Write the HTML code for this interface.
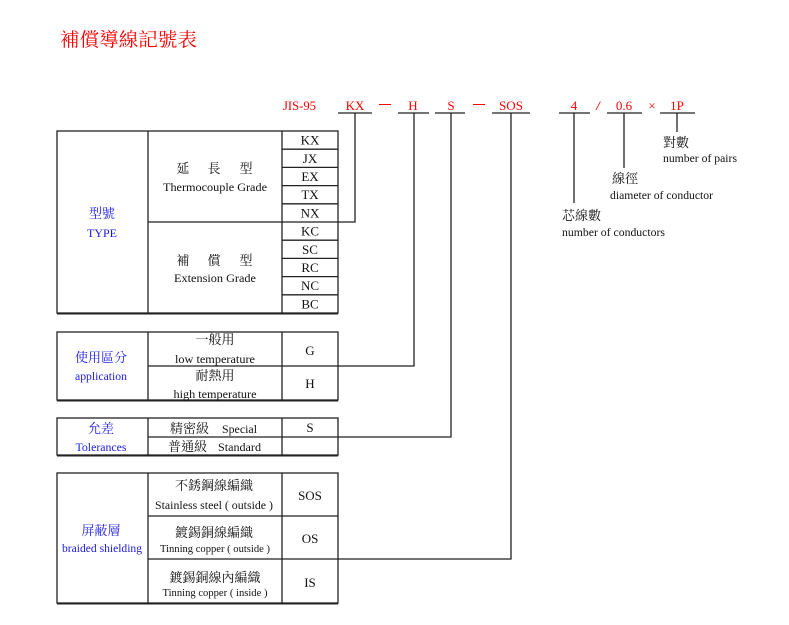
<!DOCTYPE html>
<html><head><meta charset="utf-8">
<style>
html,body{margin:0;padding:0;background:#fff;}
svg{display:block;}
text{font-family:"Liberation Serif","Noto Serif CJK TC","Noto Serif CJK SC",serif;}
.c{font-size:13px;fill:#111;}
.e{font-size:12px;fill:#111;}
.s{font-size:11px;fill:#111;}
.b{fill:#1a1ae6;}
.r{fill:#ff0000;}
</style></head>
<body>
<svg width="789" height="625" viewBox="0 0 789 625" xmlns="http://www.w3.org/2000/svg">
<text x="60" y="46" class="r" style="font-size:19px" textLength="137" lengthAdjust="spacingAndGlyphs">補償導線記號表</text>

<!-- top code line -->
<g class="r" style="font-size:13px" text-anchor="middle">
<text x="299.5" y="110" textLength="33" lengthAdjust="spacingAndGlyphs">JIS-95</text>
<text x="355" y="110">KX</text>
<text x="413" y="110">H</text>
<text x="451" y="110">S</text>
<text x="511" y="110" textLength="24" lengthAdjust="spacingAndGlyphs">SOS</text>
<text x="574" y="110">4</text>
<text x="598" y="110" style="font-style:italic;font-weight:bold">/</text>
<text x="624" y="110">0.6</text>
<text x="652" y="110">×</text>
<text x="677" y="110">1P</text>
</g>
<g stroke="#ff0000" stroke-width="1">
<line x1="379" y1="104.5" x2="391" y2="104.5"/>
<line x1="473" y1="104.5" x2="485" y2="104.5"/>
</g>

<g stroke="#222" stroke-width="1.3" fill="none">
<!-- underlines -->
<line x1="338" y1="113" x2="372" y2="113"/>
<line x1="398" y1="113" x2="429" y2="113"/>
<line x1="435" y1="113" x2="465" y2="113"/>
<line x1="492" y1="113" x2="530" y2="113"/>
<line x1="559" y1="113" x2="590" y2="113"/>
<line x1="607" y1="113" x2="642" y2="113"/>
<line x1="660" y1="113" x2="695" y2="113"/>
<!-- connectors -->
<polyline points="355,113 355,222 338,222"/>
<polyline points="414,113 414,366 338,366"/>
<polyline points="451,113 451,437 338,437"/>
<polyline points="511,113 511,559 338,559"/>
<line x1="574" y1="113" x2="574" y2="203"/>
<line x1="624" y1="113" x2="624" y2="168"/>
<line x1="677" y1="113" x2="677" y2="132"/>

<!-- table 1 -->
<rect x="57" y="131" width="281" height="182"/>
<line x1="148" y1="131" x2="148" y2="313"/>
<line x1="282" y1="131" x2="282" y2="313"/>
<line x1="148" y1="222" x2="282" y2="222"/>
<line x1="282" y1="149.2" x2="338" y2="149.2"/>
<line x1="282" y1="167.4" x2="338" y2="167.4"/>
<line x1="282" y1="185.6" x2="338" y2="185.6"/>
<line x1="282" y1="203.8" x2="338" y2="203.8"/>
<line x1="282" y1="222" x2="338" y2="222"/>
<line x1="282" y1="240.2" x2="338" y2="240.2"/>
<line x1="282" y1="258.4" x2="338" y2="258.4"/>
<line x1="282" y1="276.6" x2="338" y2="276.6"/>
<line x1="282" y1="294.8" x2="338" y2="294.8"/>

<!-- table 2 -->
<rect x="57" y="332" width="281" height="68"/>
<line x1="148" y1="332" x2="148" y2="400"/>
<line x1="282" y1="332" x2="282" y2="400"/>
<line x1="148" y1="366" x2="338" y2="366"/>

<!-- table 3 -->
<rect x="57" y="418" width="281" height="37"/>
<line x1="148" y1="418" x2="148" y2="455"/>
<line x1="282" y1="418" x2="282" y2="455"/>
<line x1="148" y1="437" x2="338" y2="437"/>

<!-- table 4 -->
<rect x="57" y="473" width="281" height="130"/>
<line x1="148" y1="473" x2="148" y2="603"/>
<line x1="282" y1="473" x2="282" y2="603"/>
<line x1="148" y1="516" x2="338" y2="516"/>
<line x1="148" y1="559" x2="338" y2="559"/>
</g>
<g stroke="#222" stroke-width="1" fill="none">
<line x1="57" y1="314" x2="338" y2="314"/>
<line x1="57" y1="401" x2="338" y2="401"/>
<line x1="57" y1="456" x2="338" y2="456"/>
<line x1="57" y1="604" x2="338" y2="604"/>
</g>

<!-- right labels -->
<text x="663" y="147" class="c">對數</text>
<text x="663" y="162" class="e" textLength="74" lengthAdjust="spacingAndGlyphs">number of pairs</text>
<text x="612" y="183" class="c">線徑</text>
<text x="610" y="199" class="e" textLength="103" lengthAdjust="spacingAndGlyphs">diameter of conductor</text>
<text x="562" y="220" class="c">芯線數</text>
<text x="562" y="236" class="e" textLength="103" lengthAdjust="spacingAndGlyphs">number of conductors</text>

<!-- table 1 text -->
<g text-anchor="middle">
<text x="102" y="218" class="c b">型號</text>
<text x="102" y="237" class="e b" textLength="30" lengthAdjust="spacingAndGlyphs">TYPE</text>
<text x="183" y="173" class="c">延</text>
<text x="214" y="173" class="c">長</text>
<text x="246" y="173" class="c">型</text>
<text x="215" y="191" class="e" textLength="104" lengthAdjust="spacingAndGlyphs">Thermocouple Grade</text>
<text x="183" y="265" class="c">補</text>
<text x="214" y="265" class="c">償</text>
<text x="246" y="265" class="c">型</text>
<text x="215" y="282" class="e" textLength="82" lengthAdjust="spacingAndGlyphs">Extension Grade</text>
<text x="310" y="144.6" class="c">KX</text>
<text x="310" y="162.8" class="c">JX</text>
<text x="310" y="181" class="c">EX</text>
<text x="310" y="199.2" class="c">TX</text>
<text x="310" y="217.4" class="c">NX</text>
<text x="310" y="235.6" class="c">KC</text>
<text x="310" y="253.8" class="c">SC</text>
<text x="310" y="272" class="c">RC</text>
<text x="310" y="290.2" class="c">NC</text>
<text x="310" y="308.4" class="c">BC</text>

<!-- table 2 text -->
<text x="101" y="362" class="c b">使用區分</text>
<text x="101" y="380" class="e b" textLength="52" lengthAdjust="spacingAndGlyphs">application</text>
<text x="215" y="344" class="c">一般用</text>
<text x="215" y="363" class="e" textLength="80" lengthAdjust="spacingAndGlyphs">low  temperature</text>
<text x="215" y="380" class="c">耐熱用</text>
<text x="215" y="398" class="e" textLength="83" lengthAdjust="spacingAndGlyphs">high  temperature</text>
<text x="310" y="355" class="c">G</text>
<text x="310" y="388" class="c">H</text>

<!-- table 3 text -->
<text x="101" y="433" class="c b">允差</text>
<text x="101" y="451" class="e b" textLength="51" lengthAdjust="spacingAndGlyphs">Tolerances</text>
<text x="310" y="432" class="c">S</text>
</g>
<text x="170" y="433" class="c">精密級</text>
<text x="222" y="433" class="e" textLength="35" lengthAdjust="spacingAndGlyphs">Special</text>
<text x="168" y="451" class="c">普通級</text>
<text x="218" y="451" class="e" textLength="43" lengthAdjust="spacingAndGlyphs">Standard</text>

<!-- table 4 text -->
<g text-anchor="middle">
<text x="101" y="535" class="c b">屏蔽層</text>
<text x="102" y="552" class="e b" textLength="80" lengthAdjust="spacingAndGlyphs">braided shielding</text>
<text x="214" y="490" class="c">不銹鋼線編織</text>
<text x="214" y="509" class="e" textLength="118" lengthAdjust="spacingAndGlyphs">Stainless  steel ( outside )</text>
<text x="214" y="537" class="c">鍍錫銅線編織</text>
<text x="215" y="552" class="s" textLength="110" lengthAdjust="spacingAndGlyphs">Tinning  copper ( outside )</text>
<text x="215" y="582" class="c">鍍錫銅線內編織</text>
<text x="215" y="596" class="s" textLength="105" lengthAdjust="spacingAndGlyphs">Tinning  copper ( inside )</text>
<text x="310" y="500" class="c">SOS</text>
<text x="310" y="543" class="c">OS</text>
<text x="310" y="587" class="c">IS</text>
</g>
</svg>
</body></html>
